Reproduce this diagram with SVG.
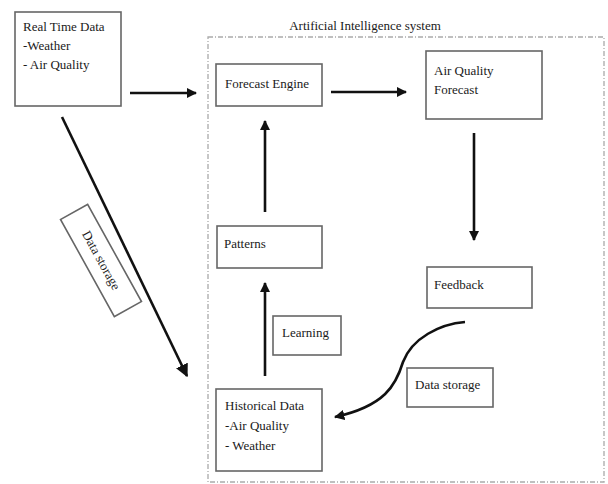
<svg xmlns="http://www.w3.org/2000/svg" width="608" height="484" viewBox="0 0 608 484">
<style>
.box{fill:#fff;stroke:#666;stroke-width:1.6}
.t{font-family:"Liberation Serif","Times New Roman",serif;font-size:13px;fill:#1a1a1a}
.c{fill:none;stroke:#111;stroke-width:2.6}
.cont{fill:none;stroke:#aaa;stroke-width:1.3;stroke-dasharray:5 2 1 2}
</style>
<defs>
<marker id="ah" viewBox="0 0 10 10" refX="9" refY="5" markerWidth="4" markerHeight="4" orient="auto" markerUnits="strokeWidth">
<path d="M0,0 L10,5 L0,10 z" fill="#111"/>
</marker>
<marker id="ah2" viewBox="0 0 10 10" refX="9" refY="5" markerWidth="5" markerHeight="5" orient="auto" markerUnits="strokeWidth">
<path d="M0,0 L10,5 L0,10 z" fill="#111"/>
</marker>
</defs>
<rect width="608" height="484" fill="#fff"/>
<g id="ai-system">
<rect class="cont" x="208" y="37" width="396" height="445"/>
<text class="t" x="365" y="30" text-anchor="middle">Artificial Intelligence system</text>
</g>
<g id="connectors">
<line class="c" x1="130" y1="93" x2="196" y2="93" marker-end="url(#ah)"/>
<line class="c" x1="331" y1="92" x2="406" y2="92" marker-end="url(#ah)"/>
<line class="c" x1="474" y1="133" x2="474" y2="240" marker-end="url(#ah)"/>
<line class="c" x1="265" y1="212" x2="265" y2="121" marker-end="url(#ah)"/>
<line class="c" x1="265" y1="376" x2="265" y2="283" marker-end="url(#ah)"/>
<line class="c" x1="62" y1="117" x2="187" y2="376" stroke-width="2.2" marker-end="url(#ah2)"/>
<path class="c" d="M465,322 C440,324 412,338 403,362 C396,385 385,406 335,417" marker-end="url(#ah)"/>
</g>
<g id="real-time-data">
<rect class="box" x="15" y="12" width="106" height="94"/>
<text class="t" x="23" y="31">Real Time Data</text>
<text class="t" x="23" y="50">-Weather</text>
<text class="t" x="23" y="69">- Air Quality</text>
</g>
<g id="data-storage-diag">
<g transform="translate(101,260.5) rotate(61)">
<rect class="box" x="-55.5" y="-15.5" width="111" height="31"/>
<text class="t" x="0" y="4" text-anchor="middle">Data storage</text>
</g>
</g>
<g id="forecast-engine">
<rect class="box" x="216" y="64" width="106" height="42"/>
<text class="t" x="225" y="88">Forecast Engine</text>
</g>
<g id="aq-forecast">
<rect class="box" x="426" y="51" width="116" height="68"/>
<text class="t" x="434" y="75">Air Quality</text>
<text class="t" x="434" y="94">Forecast</text>
</g>
<g id="patterns">
<rect class="box" x="217" y="226" width="105" height="42"/>
<text class="t" x="224" y="248">Patterns</text>
</g>
<g id="feedback">
<rect class="box" x="427" y="267" width="105" height="41"/>
<text class="t" x="434" y="289">Feedback</text>
</g>
<g id="learning">
<rect class="box" x="273" y="316" width="68" height="39"/>
<text class="t" x="282" y="337">Learning</text>
</g>
<g id="data-storage">
<rect class="box" x="407" y="368" width="86" height="39"/>
<text class="t" x="415" y="389">Data storage</text>
</g>
<g id="historical-data">
<rect class="box" x="216" y="389" width="106" height="82"/>
<text class="t" x="225" y="410">Historical Data</text>
<text class="t" x="225" y="430">-Air Quality</text>
<text class="t" x="225" y="450">- Weather</text>
</g>
</svg>
